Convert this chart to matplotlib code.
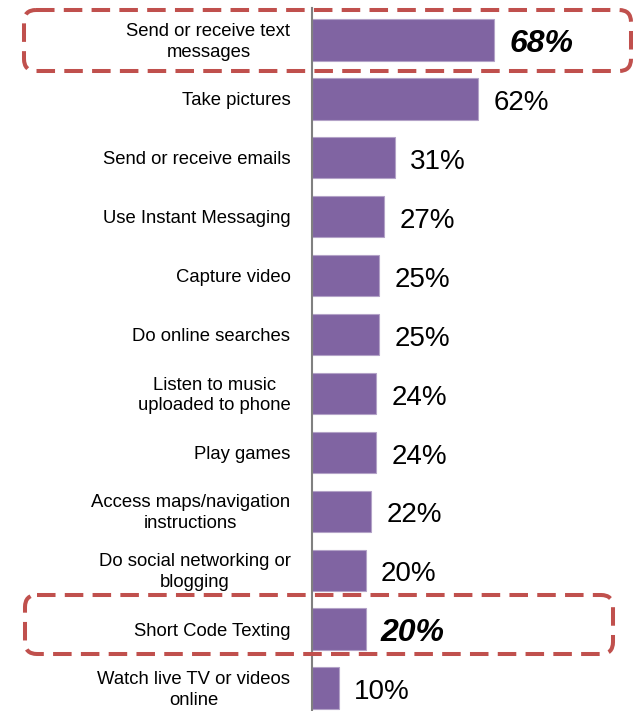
import matplotlib.pyplot as plt
from matplotlib.patches import FancyBboxPatch

plt.rcParams['font.family'] = ['Liberation Sans', 'DejaVu Sans']

labels = [
    "Send or receive text\nmessages",
    "Take pictures",
    "Send or receive emails",
    "Use Instant Messaging",
    "Capture video",
    "Do online searches",
    "Listen to music\nuploaded to phone",
    "Play games",
    "Access maps/navigation\ninstructions",
    "Do social networking or\nblogging",
    "Short Code Texting",
    "Watch live TV or videos\nonline",
]
values = [68, 62, 31, 27, 25, 25, 24, 24, 22, 20, 20, 10]
highlight = ["Send or receive text\nmessages", "Short Code Texting"]

W, H = 633, 711
fig = plt.figure(figsize=(W / 100, H / 100), dpi=100)

# axes: left edge at the gray baseline, bar rows 58.9 px apart
x0, top_px = 312, 8
ax = fig.add_axes([x0 / W, 0, 1 - x0 / W, (H - top_px) / H])
step = 58.9
first_c, last_c = 40, 688
ax.set_ylim(11 + (H - last_c) / step, -(first_c - top_px) / step)
ax.set_xlim(0, (W - x0) / 2.68)

ypos = list(range(len(values)))
ax.barh(ypos, values, height=0.7, color='#8064A2', edgecolor='#B3A2C7', linewidth=0.8)

for y, v, lab in zip(ypos, values, labels):
    hl = lab in highlight
    ax.annotate(f"{v}%", (v, y), xytext=(11, -3), textcoords='offset points',
                va='center', ha='left', fontsize=23 if hl else 20,
                fontweight='bold' if hl else 'normal',
                fontstyle='italic' if hl else 'normal')
    ax.annotate(lab, (0, y), xytext=(-15.5, -1.5), textcoords='offset points',
                va='center', ha='right', multialignment='center',
                fontsize=13.3, linespacing=1.3, annotation_clip=False)

for s in ['top', 'right', 'bottom']:
    ax.spines[s].set_visible(False)
ax.spines['left'].set_color('#808080')
ax.spines['left'].set_linewidth(1.5)
ax.set_xticks([])
ax.set_yticks([])

# overlay in pixel coordinates for the dashed highlight boxes
ov = fig.add_axes([0, 0, 1, 1], facecolor='none')
ov.set_xlim(0, W)
ov.set_ylim(H, 0)
ov.axis('off')
for (bx0, by0, bx1, by1) in [(24, 10, 631, 71), (25, 595, 613, 654)]:
    box = FancyBboxPatch((bx0, by0), bx1 - bx0, by1 - by0,
                         boxstyle="round,pad=0,rounding_size=12",
                         fill=False, edgecolor='#C0504D', linewidth=2.9,
                         linestyle=(0, (4.6, 2.3)))
    ov.add_patch(box)

fig.savefig('out.png', dpi=100)
